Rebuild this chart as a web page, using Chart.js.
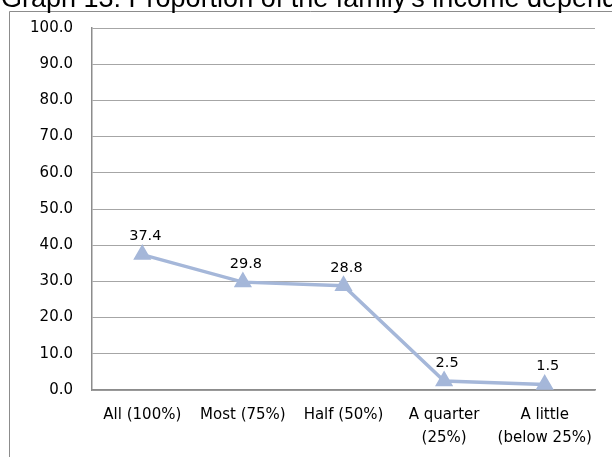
<!DOCTYPE html>
<html>
<head>
<meta charset="utf-8">
<script src="https://cdn.jsdelivr.net/npm/chart.js@4/dist/chart.umd.min.js"></script>
<style>
html,body{margin:0;padding:0;background:#fff;overflow:hidden;}
#wrap{position:relative;width:612px;height:457px;}
</style>
</head>
<body>
<div id="wrap"><canvas id="c" width="612" height="457"></canvas></div>
<script>
const titleText = "Graph 13: Proportion of the family's income depending on agriculture";
const categories = [["All (100%)"], ["Most (75%)"], ["Half (50%)"], ["A quarter", "(25%)"], ["A little", "(below 25%)"]];
const values = [37.4, 29.8, 28.8, 2.5, 1.5];
const yTicks = [0, 10, 20, 30, 40, 50, 60, 70, 80, 90, 100];

const framePlugin = {
  id: 'frame',
  beforeDraw(chart) {
    const ctx = chart.ctx;
    ctx.save();
    ctx.fillStyle = '#fff';
    ctx.fillRect(0, 0, chart.width, chart.height);
    ctx.strokeStyle = '#8c8c8c';
    ctx.lineWidth = 1;
    ctx.beginPath();
    ctx.moveTo(9.5, chart.height);
    ctx.lineTo(9.5, 11.5);
    ctx.lineTo(chart.width, 11.5);
    ctx.stroke();
    ctx.fillStyle = '#000';
    ctx.font = '27px "Liberation Sans"';
    ctx.textBaseline = 'alphabetic';
    ctx.textAlign = 'left';
    ctx.fillText(titleText, 1, 7);
    ctx.restore();
  },
  afterDatasetsDraw(chart) {
    const ctx = chart.ctx;
    const meta = chart.getDatasetMeta(0);
    ctx.save();
    ctx.fillStyle = '#000';
    ctx.font = '14.5px "DejaVu Sans"';
    ctx.textAlign = 'center';
    ctx.textBaseline = 'middle';
    meta.data.forEach((pt, i) => {
      ctx.fillText(values[i].toFixed(1), pt.x + 3, pt.y - 18);
    });
    ctx.restore();
  }
};

new Chart(document.getElementById('c'), {
  type: 'line',
  data: {
    labels: categories,
    datasets: [{
      data: values,
      borderColor: '#a5b7d9',
      backgroundColor: '#a5b7d9',
      borderWidth: 3.5,
      pointStyle: 'triangle',
      pointRadius: 7,
      pointHoverRadius: 7,
      tension: 0
    }]
  },
  options: {
    responsive: false,
    animation: false,
    devicePixelRatio: 1,
    layout: {padding: {left: 9, top: 27, right: 17, bottom: 0}},
    plugins: {legend: {display: false}, tooltip: {enabled: false}, title: {display: false}},
    scales: {
      x: {
        offset: true,
        grid: {display: false, drawTicks: false, offset: true},
        border: {display: true, color: '#8c8c8c', width: 1.5},
        ticks: {font: {family: "DejaVu Sans", size: 15, lineHeight: 1.55}, color: '#000', padding: 13, maxRotation: 0, autoSkip: false},
        afterFit(s) { s.height = 67; }
      },
      y: {
        min: 0, max: 100,
        afterBuildTicks(s) { s.ticks = yTicks.map(v => ({value: v})); },
        grid: {color: '#a6a6a6', lineWidth: 1, drawTicks: false},
        border: {display: true, color: '#8c8c8c', width: 1.5},
        ticks: {font: {family: "DejaVu Sans", size: 15}, color: '#000', padding: 19, callback: v => v.toFixed(1)},
        afterFit(s) { s.width = 83; }
      }
    }
  },
  plugins: [framePlugin]
});
</script>
</body>
</html>
